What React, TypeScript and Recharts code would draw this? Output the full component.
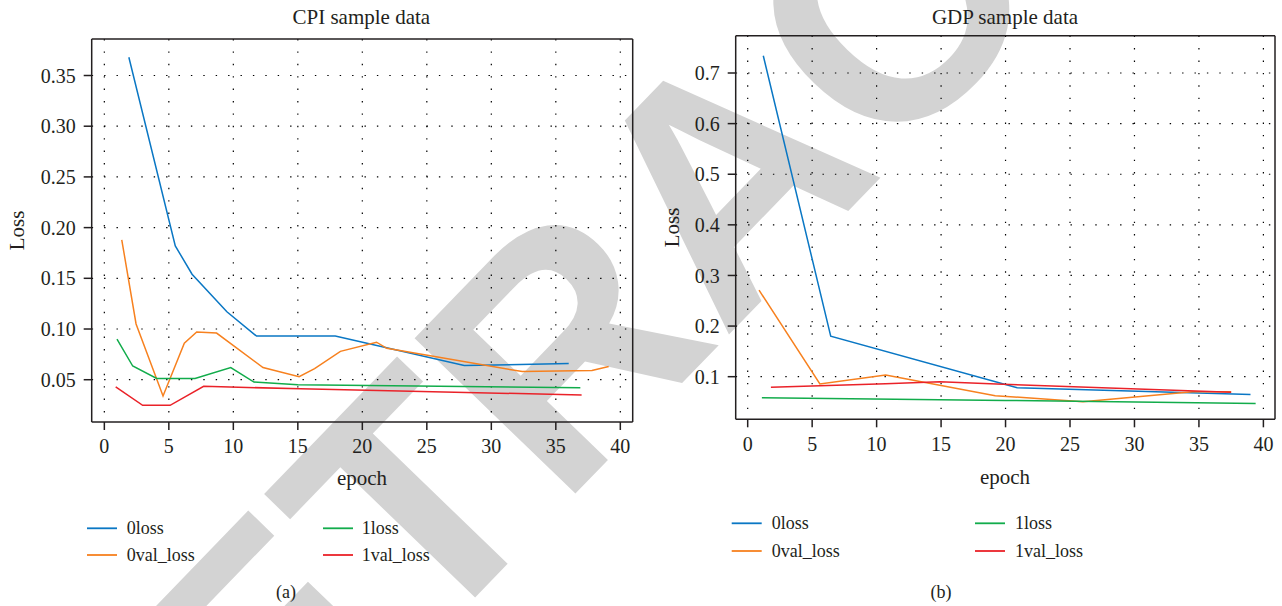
import { LineChart, Line, XAxis, YAxis, CartesianGrid, ReferenceLine } from "recharts";

// series names / colours shared by both panels
const seriesNames = ["0loss", "0val_loss", "1loss", "1val_loss"];
const seriesColors = ["#0a77c4", "#f7811f", "#12ac4b", "#ea2229"];

// CPI panel, [epoch, loss]
const cpiLoss0 = [[1.9, 0.368], [5.5, 0.182], [6.8, 0.154], [9.5, 0.117], [11.8, 0.093], [17.9, 0.093], [27.9, 0.064], [36, 0.066]];
const cpiValLoss0 = [[1.35, 0.188], [2.46, 0.105], [4.55, 0.034], [6.2, 0.086], [7.16, 0.097], [8.7, 0.096], [12.3, 0.062], [15.1, 0.053], [16.3, 0.061], [18.3, 0.078], [21.1, 0.087], [21.9, 0.081], [32.4, 0.058], [37.8, 0.059], [39.1, 0.063]];
const cpiLoss1 = [[0.98, 0.09], [2.2, 0.0635], [4.06, 0.0513], [7.03, 0.0513], [9.8, 0.062], [11.6, 0.0477], [15, 0.045], [36.9, 0.042]];
const cpiValLoss1 = [[0.88, 0.043], [2.97, 0.0247], [5.1, 0.0247], [7.7, 0.0435], [15.2, 0.041], [37, 0.035]];

// GDP panel, [epoch, loss]
const gdpLoss0 = [[1.21, 0.734], [6.44, 0.18], [20.9, 0.078], [39, 0.065]];
const gdpValLoss0 = [[0.88, 0.271], [5.6, 0.0856], [10.7, 0.1034], [19.2, 0.0625], [26, 0.0506], [34.5, 0.07], [37.5, 0.07]];
const gdpLoss1 = [[1.1, 0.0585], [20, 0.053], [39.4, 0.047]];
const gdpValLoss1 = [[1.8, 0.079], [10.7, 0.086], [14.9, 0.09], [19.8, 0.085], [37.5, 0.069]];

const epochTicks = [0, 5, 10, 15, 20, 25, 30, 35, 40];
const cpiTicks = [0.05, 0.1, 0.15, 0.2, 0.25, 0.3, 0.35];
const gdpTicks = [0.1, 0.2, 0.3, 0.4, 0.5, 0.6, 0.7];

const FONT = "'Liberation Serif', 'Times New Roman', serif";
const INK = "#231f20";

const toRows = (pts: number[][]) => pts.map(([epoch, loss]) => ({ epoch, loss }));

function Panel({ left, width, margin, xDomain, yDomain, yTicks, digits, series }: any) {
  const tick = { fill: INK, fontSize: 20, fontFamily: FONT };
  return (
    <div style={{ position: "absolute", left, top: 0 }}>
      <LineChart width={width} height={606} margin={margin}>
        <CartesianGrid
          stroke="#000"
          strokeDasharray="1.4 11"
          strokeWidth={1.2}
          horizontalValues={yTicks}
          verticalValues={epochTicks}
        />
        <XAxis
          type="number"
          dataKey="epoch"
          domain={xDomain}
          ticks={epochTicks}
          allowDataOverflow
          height={30}
          tickSize={8}
          tickMargin={9}
          tick={tick}
          stroke={INK}
          strokeWidth={1.5}
        />
        <YAxis
          type="number"
          domain={yDomain}
          ticks={yTicks}
          allowDataOverflow
          width={60}
          tickSize={8}
          tickMargin={8}
          tick={tick}
          tickFormatter={(v: number) => v.toFixed(digits)}
          stroke={INK}
          strokeWidth={1.5}
        />
        {/* closing frame on top and right */}
        <ReferenceLine y={yDomain[1]} stroke={INK} strokeWidth={1.5} />
        <ReferenceLine x={xDomain[1]} stroke={INK} strokeWidth={1.5} />
        {series.map((pts: number[][], i: number) => (
          <Line
            key={seriesNames[i]}
            data={toRows(pts)}
            dataKey="loss"
            name={seriesNames[i]}
            stroke={seriesColors[i]}
            strokeWidth={1.5}
            dot={false}
            isAnimationActive={false}
          />
        ))}
      </LineChart>
    </div>
  );
}

function Legend({ lineX, textX, col2LineX, col2TextX, rows }: any) {
  return (
    <g>
      {seriesNames.map((name, i) => {
        const col = i < 2 ? 0 : 1;
        const y = rows[i % 2];
        const lx = col ? col2LineX : lineX;
        const tx = col ? col2TextX : textX;
        return (
          <g key={name}>
            <line x1={lx} x2={lx + 30} y1={y} y2={y} stroke={seriesColors[i]} strokeWidth={1.8} />
            <text x={tx} y={y} dominantBaseline="central" fontSize={18} fontFamily={FONT} fill={INK}>
              {name}
            </text>
          </g>
        );
      })}
    </g>
  );
}

export default function App() {
  return (
    <div style={{ position: "absolute", left: 0, top: 0, width: 1282, height: 606, background: "#fff", overflow: "hidden" }}>
      {/* page watermark, sits behind the plots */}
      <svg width={1282} height={606} style={{ position: "absolute", left: 0, top: 0 }}>
        <text
          transform="translate(720 174) rotate(-46)"
          textAnchor="middle"
          dy={118}
          fontSize={325}
          fontWeight="bold"
          fontFamily="'Liberation Sans', Arial, sans-serif"
          fill="#d3d3d3"
        >
          RETRACTED
        </text>
      </svg>
      <Panel
        left={0}
        width={640}
        margin={{ top: 39, right: 7.3, bottom: 154, left: 31.7 }}
        xDomain={[-0.98, 40.96]}
        yDomain={[0.0083, 0.386]}
        yTicks={cpiTicks}
        digits={2}
        series={[cpiLoss0, cpiValLoss0, cpiLoss1, cpiValLoss1]}
      />
      <Panel
        left={640}
        width={642}
        margin={{ top: 35.7, right: 7, bottom: 156.7, left: 35.7 }}
        xDomain={[-0.93, 40.9]}
        yDomain={[0.0158, 0.7737]}
        yTicks={gdpTicks}
        digits={1}
        series={[gdpLoss0, gdpValLoss0, gdpLoss1, gdpValLoss1]}
      />
      <svg width={1282} height={606} style={{ position: "absolute", left: 0, top: 0, pointerEvents: "none" }}>
        <g fontFamily={FONT} fill={INK} fontSize={21} textAnchor="middle">
          <text x={361.3} y={24}>CPI sample data</text>
          <text x={1005} y={24}>GDP sample data</text>
          <text x={362} y={478} dominantBaseline="central">epoch</text>
          <text x={1005} y={476.7} dominantBaseline="central">epoch</text>
          <text transform="translate(17 230.5) rotate(-90)" dominantBaseline="central">Loss</text>
          <text transform="translate(672 227.5) rotate(-90)" dominantBaseline="central">Loss</text>
          <text x={286} y={591.7} fontSize={18} dominantBaseline="central">(a)</text>
          <text x={941} y={591.7} fontSize={18} dominantBaseline="central">(b)</text>
        </g>
        <Legend lineX={87} textX={126.7} col2LineX={323} col2TextX={361.7} rows={[528.3, 555]} />
        <Legend lineX={731.7} textX={771.7} col2LineX={975} col2TextX={1015} rows={[523.3, 551]} />
      </svg>
    </div>
  );
}
